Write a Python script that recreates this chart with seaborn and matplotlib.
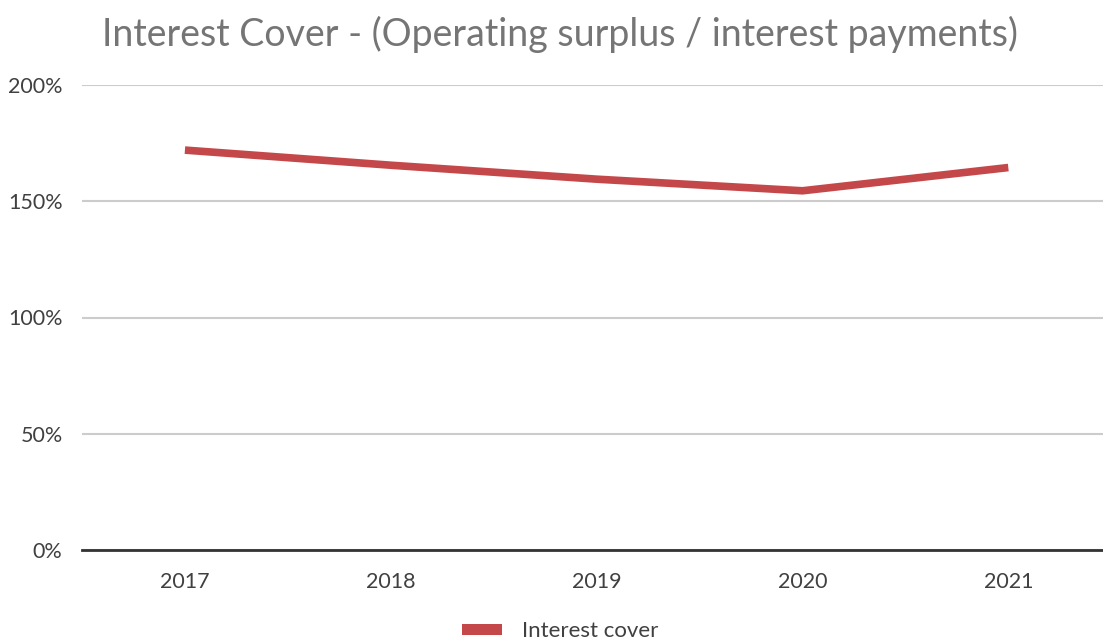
import matplotlib.pyplot as plt
import matplotlib.ticker as mticker
from matplotlib.patches import Patch
import seaborn as sns
import pandas as pd

# datos
years = ["2017", "2018", "2019", "2020", "2021"]
interest_cover = [172, 165.5, 159.5, 154.5, 164.5]
y_ticks = [0, 50, 100, 150, 200]

df = pd.DataFrame({"year": years, "cover": interest_cover})

sns.set_style("white")
plt.rcParams["font.family"] = ["Lato", "DejaVu Sans"]

fig = plt.figure(figsize=(11.03, 6.43), dpi=100)
ax = fig.add_axes([82 / 1103, 93 / 643, 1021 / 1103, 465 / 643])

line_color = "#c4484a"
sns.lineplot(data=df, x="year", y="cover", ax=ax, color=line_color,
             linewidth=5.5, solid_capstyle="butt", sort=False)

ax.set_xlim(-0.5, 4.46)
ax.set_ylim(0, 200)
ax.set_yticks(y_ticks)
ax.yaxis.set_major_formatter(mticker.FuncFormatter(lambda v, p: f"{v:.0f}%"))
ax.grid(axis="y", color="#cccccc", linewidth=1.5)
ax.set_axisbelow(True)
for s in ["top", "right", "left"]:
    ax.spines[s].set_visible(False)
ax.spines["bottom"].set_color("#333333")
ax.spines["bottom"].set_linewidth(2)
ax.tick_params(axis="both", length=0, labelsize=15.5, labelcolor="#404040")
ax.tick_params(axis="y", pad=14)
ax.tick_params(axis="x", pad=16)
ax.set_xlabel("")
ax.set_ylabel("")

fig.suptitle("Interest Cover - (Operating surplus / interest payments)",
             x=0.508, y=0.975, fontsize=27, color="#757575")

handle = Patch(facecolor=line_color, edgecolor="none")
fig.legend([handle], ["Interest cover"], loc="center", bbox_to_anchor=(0.508, 0.018),
           frameon=False, fontsize=16, labelcolor="#404040",
           handlelength=1.8, handleheight=0.45, handletextpad=0.9)

fig.savefig("out.png", dpi=100)
